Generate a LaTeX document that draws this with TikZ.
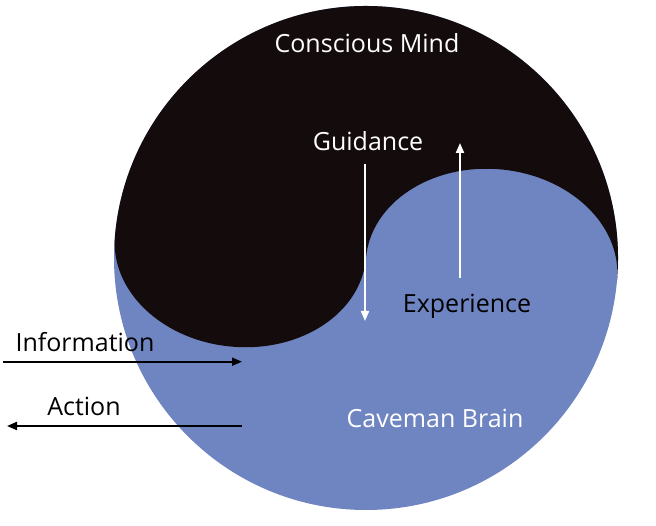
\documentclass[tikz,border=0pt]{standalone}
\usepackage{fontspec}
\setmainfont{Open Sans}
\usetikzlibrary{arrows.meta}
\definecolor{yinblack}{RGB}{20,12,12}
\definecolor{yangblue}{RGB}{111,133,194}
\begin{document}
\begin{tikzpicture}[x=1pt,y=1pt,
  lbl/.style={font=\fontsize{25}{29}\selectfont, inner sep=0pt, anchor=base},
  arr/.style={line width=2pt, -{Triangle[length=10pt,width=8pt]}},
]
\useasboundingbox (0,0) rectangle (656,525);
% outer disc
\fill[yangblue] (366,267) circle[radius=252];
% dark half
\begin{scope}[shift={(366,267)}, rotate=-5]
\fill[yinblack] (-252,0) arc[start angle=180,end angle=0,radius=252]
  arc[start angle=0,end angle=180,x radius=126,y radius=100]
  arc[start angle=0,end angle=-180,x radius=126,y radius=100] -- cycle;
\end{scope}
% labels
\node[lbl, white] (cm) at (367,472.5) {Conscious Mind};
\node[lbl, white] (gd) at (368,374) {Guidance};
\node[lbl, black] (ex) at (467,212) {Experience};
\node[lbl, white] (cb) at (435,97) {Caveman Brain};
\node[lbl, black] (inf) at (85,173) {Information};
\node[lbl, black] (act) at (84,109.3) {Action};
% arrow end points
\coordinate (infS) at (3,163.3);
\coordinate (infE) at (242,163.3);
\coordinate (actS) at (242,99);
\coordinate (actE) at (7,99);
\coordinate (gdS) at (365,361);
\coordinate (gdE) at (365,204);
\coordinate (exS) at (460,247);
\coordinate (exE) at (460,382);
\draw[arr, black] (infS) -- (infE);
\draw[arr, black] (actS) -- (actE);
\draw[arr, white] (gdS) -- (gdE);
\draw[arr, white] (exS) -- (exE);
\end{tikzpicture}
\end{document}
